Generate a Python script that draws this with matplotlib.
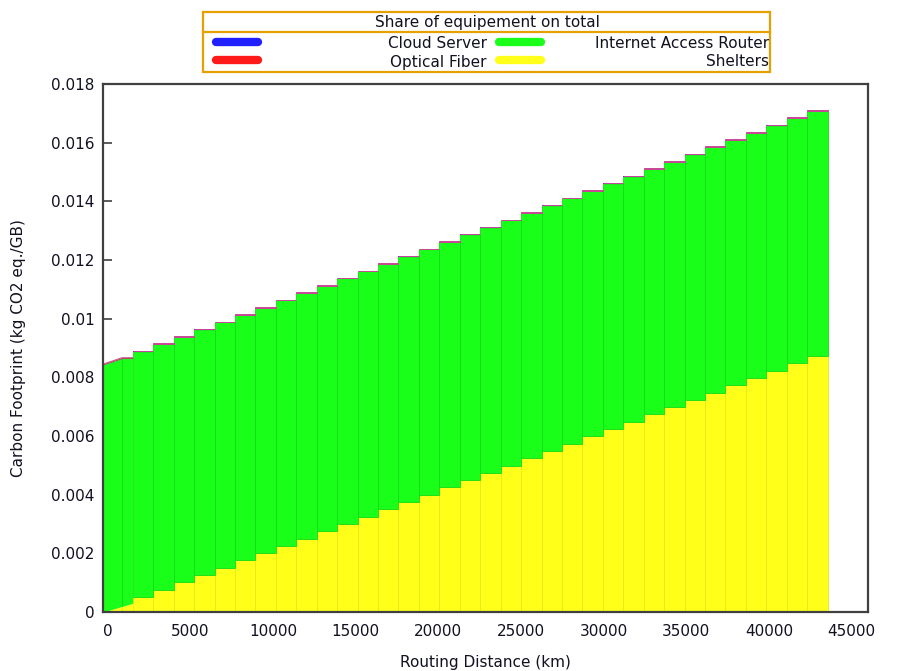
import numpy as np
import matplotlib.pyplot as plt
from matplotlib.patches import Rectangle
from matplotlib.lines import Line2D
from matplotlib.ticker import FuncFormatter

plt.rcParams["font.family"] = "DejaVu Sans"
plt.rcParams["font.size"] = 11

# routing distance bin edges (km), one more edge than values
EDGES_KM = [1500, 2740, 3975, 5210, 6450, 7685, 8920, 10160, 11395, 12630,
            13870, 15105, 16345, 17580, 18815, 20055, 21290, 22525, 23765, 25000,
            26240, 27475, 28710, 29950, 31185, 32420, 33660, 34895, 36130, 37370,
            38605, 39840, 41080, 42315, 43550]

# carbon footprint per equipment (kg CO2 eq./GB)
SHELTERS = [0.00051, 0.00076, 0.00101, 0.00126, 0.00151, 0.00176, 0.00200, 0.00225,
            0.00250, 0.00275, 0.00300, 0.00325, 0.00350, 0.00375, 0.00400, 0.00425,
            0.00449, 0.00474, 0.00499, 0.00524, 0.00549, 0.00574, 0.00599, 0.00624,
            0.00649, 0.00674, 0.00698, 0.00723, 0.00748, 0.00773, 0.00798, 0.00823,
            0.00848, 0.00872]
ROUTER = [0.00837, 0.00837, 0.00837, 0.00837, 0.00836, 0.00836, 0.00837, 0.00837,
          0.00837, 0.00837, 0.00837, 0.00836, 0.00836, 0.00836, 0.00836, 0.00836,
          0.00837, 0.00836, 0.00836, 0.00836, 0.00836, 0.00836, 0.00836, 0.00836,
          0.00835, 0.00835, 0.00836, 0.00836, 0.00836, 0.00836, 0.00835, 0.00835,
          0.00835, 0.00836]
CLOUD = [0.00001] * 34
FIBER = [0.00002] * 34

# short-distance segment before the first bin
LEAD_KM = [-300, 850, 1500]
LEAD_SHELTERS = [0.0, 0.00019, 0.00030]
LEAD_ROUTER = [0.00842, 0.00845, 0.00834]
LEAD_CLOUD = [0.00001, 0.00001, 0.00001]
LEAD_FIBER = [0.00002, 0.00002, 0.00002]

# name, values, lead values, fill colour, edge colour, edge width
SERIES = [
    ("Shelters",               SHELTERS, LEAD_SHELTERS, "#ffff1a", "#e8e816", 0.6),
    ("Internet Access Router", ROUTER,   LEAD_ROUTER,   "#1aff1a", "#14dc14", 0.6),
    ("Cloud Server",           CLOUD,    LEAD_CLOUD,    "#2020ff", "none",    0.0),
    ("Optical Fiber",          FIBER,    LEAD_FIBER,    "#ff1a1a", "#c8489a", 0.7),
]
COLORS = {s[0]: s[3] for s in SERIES}

fig = plt.figure(figsize=(8.98, 6.71), dpi=100)
ax = fig.add_axes([103 / 898, 1 - 612 / 671, 765 / 898, 528 / 671])

left = np.array(EDGES_KM[:-1])
width = np.diff(EDGES_KM)
bottom = np.zeros(len(left))
lead_bottom = np.zeros(len(LEAD_KM))
for name, vals, lead, fill, edge, lw in SERIES:
    vals = np.array(vals)
    lead = np.array(lead)
    ax.bar(left, vals, width=width, bottom=bottom, align="edge",
           color=fill, edgecolor=edge, linewidth=lw, zorder=2)
    ax.fill_between(LEAD_KM, lead_bottom, lead_bottom + lead,
                    color=fill, linewidth=0, zorder=2)
    if lw > 0:
        ax.plot(LEAD_KM, lead_bottom + lead, color=edge, linewidth=lw, zorder=2)
        ax.plot([LEAD_KM[1]] * 2, [lead_bottom[1], lead_bottom[1] + lead[1]],
                color=edge, linewidth=lw, zorder=2)
    bottom = bottom + vals
    lead_bottom = lead_bottom + lead

ax.set_xlim(-300, 46000)
ax.set_ylim(0, 0.018)
ax.set_xticks(np.arange(0, 45001, 5000))
ax.set_yticks(np.arange(0, 0.0181, 0.002))
ax.yaxis.set_major_formatter(FuncFormatter(lambda v, _: "%g" % round(v, 4)))
ax.tick_params(axis="x", length=0, pad=9, colors="#111122")
ax.tick_params(axis="y", direction="in", length=6.5, width=1.2,
               color="#404040", pad=6, labelcolor="#111122")
for sp in ax.spines.values():
    sp.set_color("#404040")
    sp.set_linewidth(1.6)
    sp.set_zorder(3)

ax.set_xlabel("Routing Distance (km)", color="#111122")
ax.xaxis.set_label_coords(0.5, -0.095)
ax.xaxis.label.set_va("center")
ax.set_ylabel("Carbon Footprint (kg CO2 eq./GB)", color="#111122")
ax.yaxis.set_label_coords(-0.111, 0.5)
ax.yaxis.label.set_va("center")

# key box above the plot
W, H = 898.0, 671.0
def fx(px):
    return px / W
def fy(py):
    return 1 - py / H

orange = "#e6a000"
fig.patches.append(Rectangle((fx(203), fy(72)), fx(770) - fx(203), fy(12) - fy(72),
                             transform=fig.transFigure, fill=False,
                             edgecolor=orange, linewidth=1.6))
fig.lines.append(Line2D([fx(203), fx(770)], [fy(32), fy(32)],
                        transform=fig.transFigure, color=orange, linewidth=1.6))
fig.text(fx(487), fy(22), "Share of equipement on total", ha="center", va="center",
         color="#111122")

key_rows = [
    [("Cloud Server", 216, 487), ("Internet Access Router", 499, 769)],
    [("Optical Fiber", 216, 487), ("Shelters", 499, 769)],
]
for row, py in zip(key_rows, [44, 62]):
    for name, sx, tx in row:
        fig.lines.append(Line2D([fx(sx), fx(sx + 42)], [fy(py - 2), fy(py - 2)],
                                transform=fig.transFigure, color=COLORS[name],
                                linewidth=6, solid_capstyle="round"))
        fig.text(fx(tx), fy(py), name, ha="right", va="center", color="#111122")

fig.savefig("out.png", dpi=100)
